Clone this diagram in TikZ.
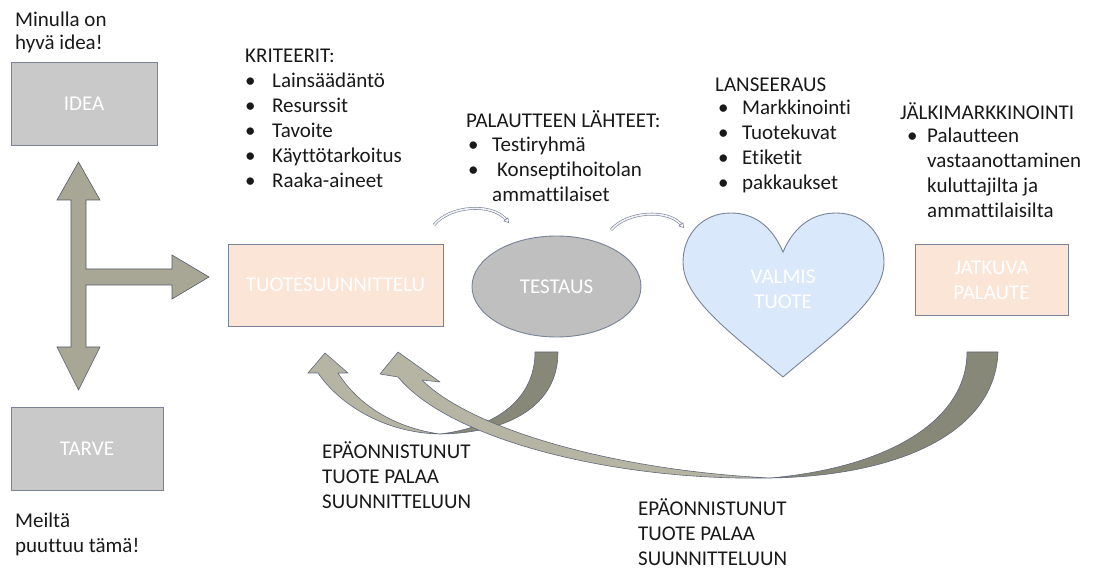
\documentclass[tikz,border=0pt]{standalone}
\usepackage{fontspec}
\setmainfont{Carlito}[Ligatures=NoCommon]
\usetikzlibrary{shapes.geometric,arrows.meta}

\definecolor{boxgray}{RGB}{201,201,201}
\definecolor{peach}{RGB}{251,229,214}
\definecolor{ovalgray}{RGB}{191,191,191}
\definecolor{heartblue}{RGB}{218,232,252}
\definecolor{edge}{RGB}{120,130,152}
\definecolor{arrowmid}{RGB}{168,166,148}
\definecolor{arrowlight}{RGB}{182,180,162}
\definecolor{arrowdark}{RGB}{136,136,120}
\definecolor{ink}{RGB}{25,25,25}

\tikzset{
  shapebox/.style={draw=edge, line width=0.9pt, inner sep=0pt, text=white,
                   font=\fontsize{21}{25}\selectfont, align=center},
  txt/.style={anchor=base west, inner sep=0pt, text=ink, font=\fontsize{21}{25}\selectfont},
  bigarrow/.style={draw=edge!80!black, line width=0.6pt, line join=round},
  hook/.style={draw=edge, line width=0.6pt, double=white!90!edge, double distance=1.6pt,
               -{Triangle[open,length=5pt,width=6pt]}}
}

\begin{document}
\begin{tikzpicture}[x=1pt,y=-1pt]
\useasboundingbox (0,0) rectangle (1093,569);

% --- three-way arrow between IDEA, TARVE and TUOTESUUNNITTELU
\fill[arrowmid, draw=edge!70!black, line width=0.6pt]
  (78.5,162) -- (100,200) -- (86,200) -- (86,269) -- (172,269) -- (172,255)
  -- (209,277) -- (172,299) -- (172,285) -- (86,285) -- (86,347) -- (100,347)
  -- (78.5,390) -- (57,347) -- (71,347) -- (71,200) -- (57,200) -- cycle;

% --- boxes
\node[shapebox, fill=boxgray, minimum width=146pt, minimum height=83pt] (idea) at (84,103.5) {IDEA};
\node[shapebox, fill=boxgray, minimum width=152pt, minimum height=83pt] (tarve) at (87,448.5) {TARVE};
\node[shapebox, fill=peach, minimum width=215pt, minimum height=82pt] (suunnittelu) at (335.5,285) {TUOTESUUNNITTELU};
\node[shapebox, ellipse, fill=ovalgray, minimum width=169pt, minimum height=101pt] (testaus) at (556.5,286.5) {TESTAUS};
\node[shapebox, fill=peach, minimum width=153pt, minimum height=71pt] (jatkuva) at (991.5,280) {JATKUVA\\PALAUTE};

% --- heart
\fill[heartblue, draw=edge, line width=0.9pt]
  (783,252) .. controls (795,224) and (815,213) .. (836,213)
  .. controls (866,213) and (884,236) .. (884,262)
  .. controls (884,300) and (832,335) .. (783,377)
  .. controls (734,335) and (683,300) .. (683,262)
  .. controls (683,236) and (701,213) .. (731,213)
  .. controls (752,213) and (771,224) .. (783,252) -- cycle;
\node[shapebox, draw=none] (valmis) at (783,289) {VALMIS\\TUOTE};

% --- small hooked arrows between the steps
\coordinate (h1a) at (434,225);
\coordinate (h1b) at (509,223);
\coordinate (h2a) at (611,230);
\coordinate (h2b) at (684,228);
\draw[hook] (h1a) .. controls (450,205) and (492,203) .. (h1b);
\draw[hook] (h2a) .. controls (627,211) and (668,209) .. (h2b);

% --- return arrow from TESTAUS
\fill[arrowdark, bigarrow]
  (535,352) -- (558,352) .. controls (558,405) and (510,433) .. (440,434)
  .. controls (498,427) and (535,398) .. (535,352) -- cycle;
\fill[arrowlight, bigarrow]
  (440,434) .. controls (385,433) and (340,405) .. (318,373)
  -- (308,373) -- (325,353) -- (348,373) -- (338,373)
  .. controls (358,405) and (395,428) .. (440,434) -- cycle;

% --- return arrow from JATKUVA PALAUTE
\fill[arrowdark, bigarrow]
  (967,352) -- (998,352) .. controls (995,432) and (900,476) .. (770,478)
  .. controls (885,468) and (967,422) .. (967,352) -- cycle;
\fill[arrowlight, bigarrow]
  (770,478) .. controls (615,481) and (450,440) .. (398,377)
  -- (380,374) -- (398,352) -- (440,382) -- (422,380)
  .. controls (470,428) and (610,470) .. (770,478) -- cycle;

% --- free texts
\node[txt] (minulla1) at (15,27) {Minulla on};
\node[txt] (minulla2) at (15,50) {hyvä idea!};
\node[txt] (meilta1) at (15,527) {Meiltä};
\node[txt] (meilta2) at (15,552) {puuttuu tämä!};

\node[txt] (kriteerit) at (245,63) {KRITEERIT:};
\foreach \t [count=\i] in {Lainsäädäntö,Resurssit,Tavoite,Käyttötarkoitus,Raaka-aineet}{
  \node[txt] (krb\i) at (245,63+25*\i) {•};
  \node[txt] (kr\i) at (272,63+25*\i) {\t};
}

\node[txt] (lahteet) at (466,128) {PALAUTTEEN LÄHTEET:};
\node[txt] (lab1) at (468,152) {•};
\node[txt] (la1) at (492,152) {Testiryhmä};
\node[txt] (lab2) at (468,177) {•};
\node[txt] (la2) at (497,177) {Konseptihoitolan};
\node[txt] (la3) at (492,202) {ammattilaiset};

\node[txt] (lanseeraus) at (715,92) {LANSEERAUS};
\foreach \t [count=\i] in {Markkinointi,Tuotekuvat,Etiketit,pakkaukset}{
  \node[txt] (lnb\i) at (718,90+25*\i) {•};
  \node[txt] (ln\i) at (742,90+25*\i) {\t};
}

\node[txt] (jalki) at (900,120) {JÄLKIMARKKINOINTI};
\node[txt] (jab) at (907,143) {•};
\foreach \t [count=\i] in {Palautteen,vastaanottaminen,kuluttajilta ja,ammattilaisilta}{
  \node[txt] (ja\i) at (927,118+25*\i) {\t};
}

\foreach \t [count=\i] in {EPÄONNISTUNUT,TUOTE PALAA,SUUNNITTELUUN}{
  \node[txt] (epa\i) at (322,433+25*\i) {\t};
  \node[txt] (epb\i) at (638,490+25*\i) {\t};
}
\end{tikzpicture}
\end{document}
